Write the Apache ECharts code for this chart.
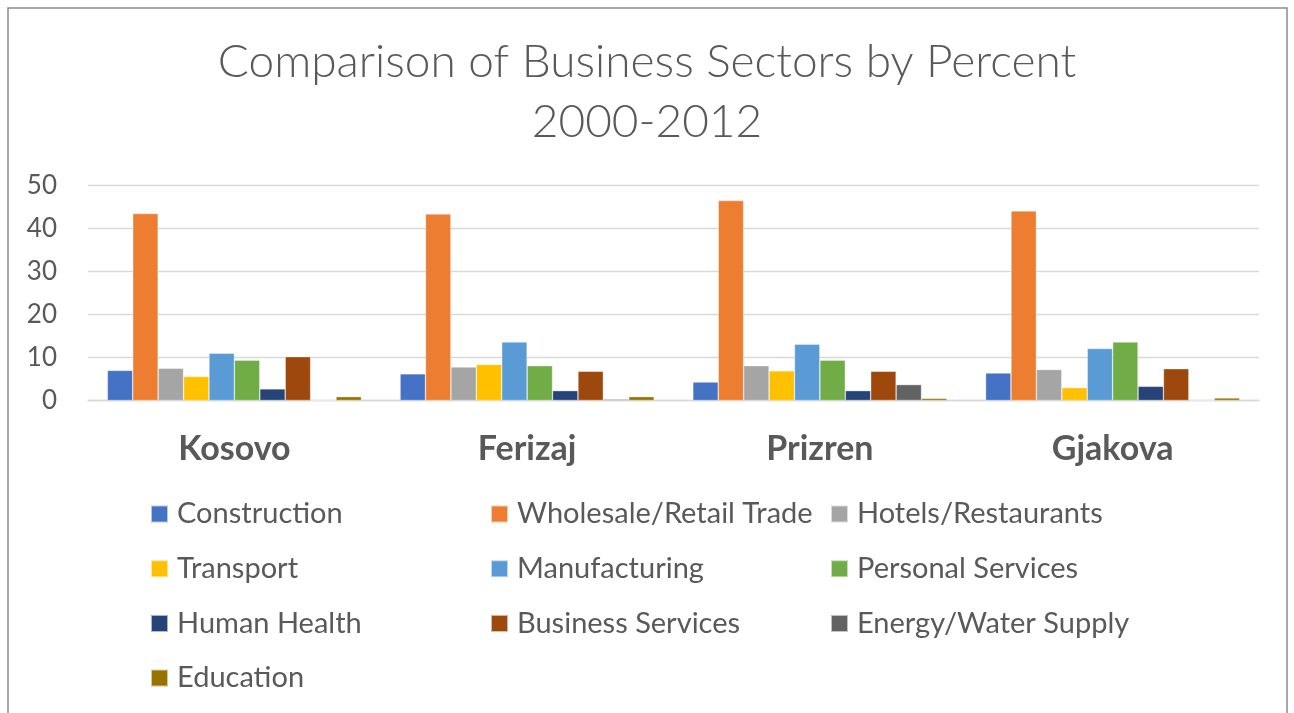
<!DOCTYPE html>
<html>
<head>
<meta charset="utf-8">
<script src="https://cdn.jsdelivr.net/npm/echarts@6/dist/echarts.min.js"></script>
<style>
html,body{margin:0;padding:0;background:#fff;}
#chart{width:1294px;height:713px;}
</style>
</head>
<body>
<div id="chart"></div>
<script>
var categories = ['Kosovo', 'Ferizaj', 'Prizren', 'Gjakova'];
var yTicks = [0, 10, 20, 30, 40, 50];
var construction   = [7.0, 6.2, 4.3, 6.4];
var wholesale      = [43.5, 43.4, 46.5, 44.1];
var hotels         = [7.5, 7.8, 8.1, 7.2];
var transport      = [5.6, 8.4, 6.9, 3.0];
var manufacturing  = [11.0, 13.6, 13.1, 12.1];
var personal       = [9.4, 8.1, 9.4, 13.6];
var humanHealth    = [2.7, 2.3, 2.3, 3.3];
var business       = [10.2, 6.8, 6.8, 7.4];
var energy         = [0.1, 0.3, 3.7, 0.1];
var education      = [0.9, 0.9, 0.5, 0.6];

var seriesNames = ['Construction', 'Wholesale/Retail Trade', 'Hotels/Restaurants', 'Transport',
  'Manufacturing', 'Personal Services', 'Human Health', 'Business Services', 'Energy/Water Supply', 'Education'];
var seriesData = [construction, wholesale, hotels, transport, manufacturing, personal, humanHealth, business, energy, education];
var colors = ['#4472C4', '#ED7D31', '#A5A5A5', '#FFC000', '#5B9BD5', '#70AD47', '#264478', '#9E480E', '#636363', '#997300'];

var FONT = 'Lato, "Open Sans", sans-serif';
var TXT = '#595959';

var chart = echarts.init(document.getElementById('chart'), null, {renderer: 'canvas'});

function legendCol(names, left) {
  return {
    orient: 'vertical',
    left: left,
    top: 499,
    padding: 0,
    data: names,
    icon: 'rect',
    itemWidth: 17,
    itemHeight: 17,
    itemGap: 24.7,
    selectedMode: false,
    textStyle: {fontFamily: FONT, fontSize: 29, color: TXT, lineHeight: 30, padding: [0, 0, 0, 4]}
  };
}

var option = {
  backgroundColor: '#fff',
  animation: false,
  color: colors,
  title: {
    text: 'Comparison of Business Sectors by Percent\n2000-2012',
    left: 'center',
    top: 27,
    textStyle: {fontFamily: FONT, fontWeight: 300, fontSize: 46, color: TXT, lineHeight: 60}
  },
  graphic: [{
    type: 'rect',
    shape: {x: 8, y: 8, width: 1279, height: 730},
    style: {fill: 'none', stroke: '#8c8c8c', lineWidth: 1.5},
    silent: true
  }],
  legend: [
    legendCol(['Construction', 'Transport', 'Human Health', 'Education'], 150),
    legendCol(['Wholesale/Retail Trade', 'Manufacturing', 'Business Services'], 490),
    legendCol(['Hotels/Restaurants', 'Personal Services', 'Energy/Water Supply'], 830)
  ],
  grid: {left: 88, right: 35, top: 185.5, bottom: 312.5},
  xAxis: {
    type: 'category',
    data: categories,
    axisLine: {lineStyle: {color: '#d9d9d9', width: 1.3}},
    axisTick: {show: false},
    axisLabel: {fontFamily: FONT, fontWeight: 'bold', fontSize: 34, color: TXT, margin: 32}
  },
  yAxis: {
    type: 'value',
    min: yTicks[0],
    max: yTicks[yTicks.length - 1],
    interval: yTicks[1] - yTicks[0],
    axisLine: {show: false},
    axisTick: {show: false},
    splitLine: {lineStyle: {color: '#d9d9d9', width: 1.3}},
    axisLabel: {fontFamily: FONT, fontSize: 26, color: TXT, margin: 31}
  },
  series: seriesNames.map(function (n, i) {
    return {
      name: n,
      type: 'bar',
      data: seriesData[i],
      barGap: '0%',
      barCategoryGap: '13.2%',
      itemStyle: {color: colors[i], borderColor: 'rgba(255,255,255,0.6)', borderWidth: 0.6}
    };
  })
};
chart.setOption(option);
</script>
</body>
</html>
